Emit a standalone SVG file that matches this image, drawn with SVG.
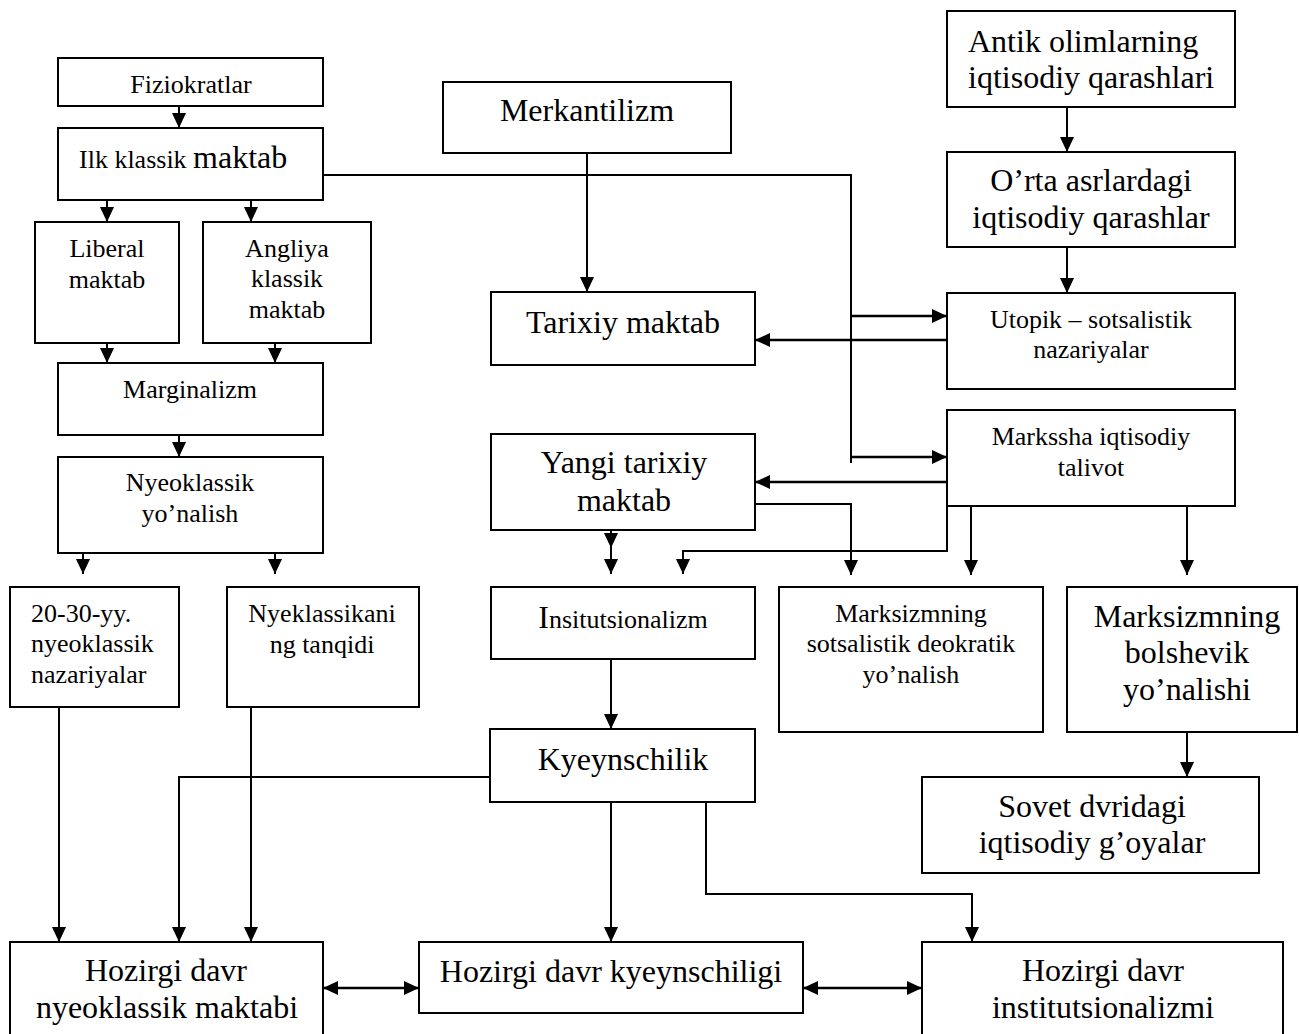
<svg xmlns="http://www.w3.org/2000/svg" width="1299" height="1034" viewBox="0 0 1299 1034">
<style>
.box{fill:#fff;stroke:#000;stroke-width:2}
.t{font-family:"Liberation Serif","Times New Roman",serif;fill:#000;text-anchor:middle}
.s{font-size:26px}
.l{font-size:32px}
.c{fill:none;stroke:#000;stroke-width:2}
.a{marker-end:url(#ah)}
.d{marker-end:url(#ah);marker-start:url(#ah)}
.w{stroke-width:2.5}
</style>
<defs>
<marker id="ah" markerUnits="userSpaceOnUse" markerWidth="15" markerHeight="14" refX="15" refY="7" orient="auto-start-reverse">
<path d="M0,0 L15,7 L0,14 z" fill="#000"/>
</marker>
</defs>
<rect width="1299" height="1034" fill="#fff"/>
<g id="connectors">
<path class="c a" d="M179,106 V128"/>
<path class="c a" d="M107,200 V222"/>
<path class="c a" d="M251,200 V222"/>
<path class="c a" d="M107,343 V363"/>
<path class="c a" d="M275,343 V363"/>
<path class="c a" d="M179,435 V457"/>
<path class="c a" d="M83,553 V574"/>
<path class="c a" d="M275,553 V574"/>
<path class="c a" d="M59,707 V942"/>
<path class="c a" d="M251,707 V942"/>
<path class="c a" d="M490,777 H179 V942"/>
<path class="c" d="M323,175 H851 V463"/>
<path class="c a w" d="M851,316 H947"/>
<path class="c a w" d="M851,457 H947"/>
<path class="c a" d="M587,153 V292"/>
<path class="c a w" d="M947,340 H755"/>
<path class="c a" d="M1067,107 V152"/>
<path class="c a" d="M1067,247 V293"/>
<path class="c a w" d="M947,482 H755"/>
<path class="c a" d="M755,504 H851 V575"/>
<path class="c a" d="M947,506 V551 H683 V574"/>
<path class="c a" d="M611,530 V548"/>
<path class="c a" d="M611,540 V574"/>
<path class="c a" d="M971,506 V575"/>
<path class="c a" d="M1187,506 V575"/>
<path class="c a" d="M611,659 V729"/>
<path class="c a" d="M1187,732 V777"/>
<path class="c a" d="M611,802 V942"/>
<path class="c a" d="M706,802 V894 H972 V942"/>
<path class="c d w" d="M323,988 H419"/>
<path class="c d w" d="M803,988 H922"/>
</g>
<g id="fiziokratlar"><rect class="box" x="58" y="58" width="265" height="48"/><text class="t s" x="191" y="93">Fiziokratlar</text></g>
<g id="ilk-klassik"><rect class="box" x="58" y="128" width="265" height="72"/><text class="t" x="79" y="168" style="text-anchor:start"><tspan class="s">Ilk klassik </tspan><tspan class="l">maktab</tspan></text></g>
<g id="liberal"><rect class="box" x="35" y="222" width="144" height="121"/><text class="t s" x="107" y="257">Liberal</text><text class="t s" x="107" y="288">maktab</text></g>
<g id="angliya"><rect class="box" x="203" y="222" width="168" height="121"/><text class="t s" x="287" y="257">Angliya</text><text class="t s" x="287" y="287">klassik</text><text class="t s" x="287" y="318">maktab</text></g>
<g id="marginalizm"><rect class="box" x="58" y="363" width="265" height="72"/><text class="t s" x="190" y="398">Marginalizm</text></g>
<g id="nyeoklassik"><rect class="box" x="58" y="457" width="265" height="96"/><text class="t s" x="190" y="491">Nyeoklassik</text><text class="t s" x="190" y="522">yo’nalish</text></g>
<g id="yy2030"><rect class="box" x="10" y="587" width="169" height="120"/><text class="t s" x="31" y="622" style="text-anchor:start">20-30-yy.</text><text class="t s" x="31" y="652" style="text-anchor:start">nyeoklassik</text><text class="t s" x="31" y="683" style="text-anchor:start">nazariyalar</text></g>
<g id="nyeklassikani"><rect class="box" x="227" y="587" width="192" height="120"/><text class="t s" x="322" y="622">Nyeklassikani</text><text class="t s" x="322" y="653">ng tanqidi</text></g>
<g id="merkantilizm"><rect class="box" x="443" y="82" width="288" height="71"/><text class="t l" x="587" y="121">Merkantilizm</text></g>
<g id="tarixiy"><rect class="box" x="491" y="292" width="264" height="73"/><text class="t l" x="623" y="333">Tarixiy maktab</text></g>
<g id="antik"><rect class="box" x="947" y="11" width="288" height="96"/><text class="t l" x="968" y="52" style="text-anchor:start">Antik olimlarning</text><text class="t l" x="968" y="88" style="text-anchor:start">iqtisodiy qarashlari</text></g>
<g id="orta"><rect class="box" x="947" y="152" width="288" height="95"/><text class="t l" x="1091" y="191">O’rta asrlardagi</text><text class="t l" x="1091" y="228">iqtisodiy qarashlar</text></g>
<g id="utopik"><rect class="box" x="947" y="293" width="288" height="96"/><text class="t s" x="1091" y="328">Utopik – sotsalistik</text><text class="t s" x="1091" y="358">nazariyalar</text></g>
<g id="markssha"><rect class="box" x="947" y="410" width="288" height="96"/><text class="t s" x="1091" y="445">Markssha iqtisodiy</text><text class="t s" x="1091" y="476">talivot</text></g>
<g id="yangi-tarixiy"><rect class="box" x="491" y="434" width="264" height="96"/><text class="t l" x="624" y="473">Yangi tarixiy</text><text class="t l" x="624" y="511">maktab</text></g>
<g id="insitutsionalizm"><rect class="box" x="491" y="587" width="264" height="72"/><text class="t" x="623" y="628"><tspan class="l">I</tspan><tspan class="s">nsitutsionalizm</tspan></text></g>
<g id="marksizm-sots"><rect class="box" x="779" y="587" width="264" height="145"/><text class="t s" x="911" y="622">Marksizmning</text><text class="t s" x="911" y="652">sotsalistik deokratik</text><text class="t s" x="911" y="683">yo’nalish</text></g>
<g id="marksizm-bolsh"><rect class="box" x="1067" y="587" width="230" height="145"/><text class="t l" x="1187" y="627">Marksizmning</text><text class="t l" x="1187" y="663">bolshevik</text><text class="t l" x="1187" y="700">yo’nalishi</text></g>
<g id="kyeynschilik"><rect class="box" x="490" y="729" width="265" height="73"/><text class="t l" x="623" y="770">Kyeynschilik</text></g>
<g id="sovet"><rect class="box" x="922" y="777" width="337" height="96"/><text class="t l" x="1092" y="817">Sovet dvridagi</text><text class="t l" x="1092" y="853">iqtisodiy g’oyalar</text></g>
<g id="hozirgi-neo"><rect class="box" x="10" y="942" width="313" height="100"/><text class="t l" x="166" y="981">Hozirgi davr</text><text class="t l" x="167" y="1018">nyeoklassik maktabi</text></g>
<g id="hozirgi-kyey"><rect class="box" x="419" y="942" width="384" height="71"/><text class="t l" x="611" y="982">Hozirgi davr kyeynschiligi</text></g>
<g id="hozirgi-inst"><rect class="box" x="922" y="942" width="361" height="100"/><text class="t l" x="1103" y="981">Hozirgi davr</text><text class="t l" x="1103" y="1018">institutsionalizmi</text></g>
</svg>
